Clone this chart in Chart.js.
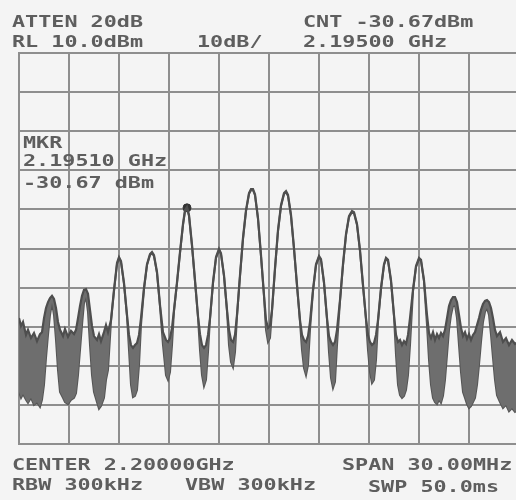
<!DOCTYPE html>
<html>
<head>
<meta charset="utf-8">
<script src="https://cdn.jsdelivr.net/npm/chart.js@4/dist/chart.umd.min.js"></script>
<style>
  html, body { margin:0; padding:0; background:#f4f4f4; overflow:hidden; width:516px; height:500px; }
  #wrap { position:absolute; left:0; top:0; width:540px; height:500px; }
</style>
</head>
<body>
<div id="wrap"><canvas id="c" width="540" height="500"></canvas></div>
<script>
// ---- data ----
// frequency (MHz), span 2185..2215 MHz
const freqMHz = [
  2185.00, 2185.12, 2185.24, 2185.42, 2185.54, 2185.72, 2185.90, 2186.08, 2186.26, 2186.38,
  2186.50, 2186.62, 2186.74, 2186.86, 2186.98, 2187.10, 2187.22, 2187.34, 2187.46, 2187.64,
  2187.76, 2187.94, 2188.12, 2188.30, 2188.42, 2188.54, 2188.66, 2188.78, 2188.90, 2189.02,
  2189.14, 2189.26, 2189.38, 2189.50, 2189.68, 2189.80, 2189.92, 2190.10, 2190.22, 2190.34,
  2190.52, 2190.70, 2190.88, 2191.00, 2191.12, 2191.30, 2191.48, 2191.60, 2191.72, 2191.84,
  2191.96, 2192.08, 2192.20, 2192.32, 2192.50, 2192.68, 2192.86, 2192.98, 2193.10, 2193.28,
  2193.46, 2193.64, 2193.82, 2193.94, 2194.06, 2194.18, 2194.30, 2194.48, 2194.66, 2194.84,
  2194.96, 2195.08, 2195.20, 2195.38, 2195.56, 2195.74, 2195.86, 2195.98, 2196.10, 2196.22,
  2196.34, 2196.46, 2196.64, 2196.82, 2197.00, 2197.12, 2197.30, 2197.48, 2197.60, 2197.72,
  2197.84, 2197.96, 2198.08, 2198.26, 2198.44, 2198.62, 2198.80, 2198.92, 2199.04, 2199.16,
  2199.34, 2199.52, 2199.70, 2199.82, 2199.94, 2200.06, 2200.18, 2200.36, 2200.54, 2200.72,
  2200.90, 2201.02, 2201.14, 2201.32, 2201.50, 2201.68, 2201.86, 2201.98, 2202.10, 2202.22,
  2202.34, 2202.46, 2202.64, 2202.82, 2203.00, 2203.12, 2203.30, 2203.48, 2203.60, 2203.72,
  2203.84, 2203.96, 2204.08, 2204.26, 2204.44, 2204.62, 2204.80, 2204.98, 2205.10, 2205.28,
  2205.46, 2205.64, 2205.82, 2205.94, 2206.06, 2206.18, 2206.30, 2206.42, 2206.54, 2206.72,
  2206.90, 2207.02, 2207.14, 2207.32, 2207.50, 2207.62, 2207.74, 2207.86, 2207.98, 2208.10,
  2208.22, 2208.34, 2208.46, 2208.64, 2208.82, 2209.00, 2209.12, 2209.30, 2209.48, 2209.60,
  2209.72, 2209.84, 2209.96, 2210.08, 2210.20, 2210.32, 2210.44, 2210.56, 2210.68, 2210.80,
  2210.92, 2211.04, 2211.16, 2211.28, 2211.40, 2211.52, 2211.64, 2211.76, 2211.88, 2212.00,
  2212.12, 2212.24, 2212.36, 2212.48, 2212.60, 2212.72, 2212.84, 2212.96, 2213.08, 2213.20,
  2213.32, 2213.44, 2213.56, 2213.68, 2213.86, 2214.04, 2214.22, 2214.40, 2214.58, 2214.76, 2215.00
];
// upper edge of the trace (dBm)
const levelMax = [
  -57.8, -59.8, -58.8, -62.1, -60.8, -62.9, -61.6, -63.7, -61.9, -61.4,
  -57.8, -55.2, -53.7, -52.7, -52.1, -52.9, -55.2, -58.8, -60.8, -62.4,
  -60.6, -62.6, -61.1, -61.9, -60.8, -57.8, -54.7, -52.1, -50.6, -50.4,
  -51.6, -55.7, -59.8, -62.4, -63.4, -61.9, -63.7, -61.4, -59.6, -61.4,
  -58.3, -50.6, -43.7, -42.2, -43.2, -48.8, -57.0, -62.1, -64.7, -65.4,
  -64.7, -64.2, -62.1, -57.8, -50.1, -44.0, -41.4, -40.9, -41.7, -46.0,
  -54.5, -61.4, -63.4, -63.9, -62.9, -60.3, -55.7, -48.6, -40.9, -33.7,
  -30.2, -29.4, -31.4, -39.1, -48.1, -57.3, -61.9, -64.7, -65.4, -64.7,
  -62.1, -57.8, -48.6, -42.2, -40.1, -41.2, -46.8, -55.7, -60.8, -63.4,
  -63.9, -62.1, -57.0, -46.8, -37.3, -30.2, -25.8, -24.8, -24.8, -26.1,
  -32.2, -41.7, -51.9, -58.3, -60.3, -59.8, -55.7, -45.0, -35.3, -28.9,
  -25.8, -25.3, -26.3, -31.4, -39.9, -49.3, -58.3, -62.1, -63.4, -63.9,
  -62.4, -58.8, -50.6, -44.0, -41.9, -42.7, -48.6, -57.8, -62.4, -63.9,
  -64.7, -63.9, -60.8, -53.2, -44.0, -36.3, -31.7, -30.4, -30.7, -33.7,
  -40.4, -49.3, -57.8, -62.1, -63.9, -64.7, -64.2, -62.1, -58.3, -50.1,
  -44.0, -42.4, -42.9, -48.1, -57.0, -62.1, -63.9, -63.4, -64.7, -63.7,
  -64.4, -62.1, -57.8, -50.6, -44.5, -42.4, -42.9, -48.1, -57.0, -61.6,
  -62.9, -61.4, -63.4, -61.9, -62.9, -61.6, -62.4, -60.8, -57.8, -54.7,
  -53.2, -52.4, -52.4, -53.7, -57.0, -60.3, -62.4, -61.4, -63.1, -61.9,
  -63.4, -62.1, -61.4, -59.6, -57.8, -55.7, -54.2, -53.4, -53.2, -53.7,
  -55.2, -57.8, -60.8, -62.4, -61.4, -63.9, -62.9, -64.7, -63.4, -64.4, -63.7
];
// lower edge of the trace (dBm)
const levelMin = [
  -76.7, -78.2, -77.2, -78.7, -79.5, -78.2, -80.0, -79.3, -80.5, -78.7,
  -74.9, -68.0, -62.1, -57.0, -53.9, -57.0, -63.4, -71.1, -76.7, -78.2,
  -79.3, -79.8, -78.7, -78.2, -77.0, -72.4, -66.0, -59.6, -53.9, -52.4,
  -56.2, -64.7, -72.4, -76.7, -79.3, -81.0, -80.3, -78.2, -73.6, -71.1,
  -58.6, -50.9, -44.0, -42.5, -43.5, -49.1, -57.4, -66.0, -74.9, -78.0,
  -77.7, -76.2, -69.8, -59.6, -50.4, -44.3, -41.7, -41.2, -42.0, -46.3,
  -54.8, -64.7, -72.4, -73.6, -71.6, -64.7, -56.0, -48.9, -41.2, -34.0,
  -30.5, -29.7, -31.7, -39.4, -48.4, -57.6, -66.0, -72.4, -75.2, -73.6,
  -66.5, -58.1, -48.9, -42.5, -40.4, -41.5, -47.1, -56.0, -64.7, -69.0,
  -70.3, -66.5, -57.3, -47.1, -37.6, -30.5, -26.1, -25.1, -25.1, -26.4,
  -32.5, -42.0, -52.2, -60.8, -63.9, -62.9, -56.0, -45.3, -35.6, -29.2,
  -26.1, -25.6, -26.6, -31.7, -40.2, -49.6, -58.8, -66.0, -70.6, -72.4,
  -69.8, -60.8, -50.9, -44.3, -42.2, -43.0, -48.9, -58.1, -66.5, -73.1,
  -75.7, -74.1, -64.7, -53.5, -44.3, -36.6, -32.0, -30.7, -31.0, -34.0,
  -40.7, -49.6, -58.3, -66.0, -71.6, -74.4, -73.6, -68.5, -58.8, -50.4,
  -44.3, -42.7, -43.2, -48.4, -57.4, -67.2, -74.9, -77.5, -78.2, -77.7,
  -76.2, -72.4, -64.7, -50.9, -44.8, -42.7, -43.2, -48.4, -59.6, -68.5,
  -74.9, -78.2, -79.3, -79.8, -78.7, -79.5, -77.7, -73.6, -67.2, -60.8,
  -57.0, -54.7, -54.5, -57.8, -64.7, -71.6, -76.7, -78.2, -79.8, -80.8,
  -80.3, -79.3, -78.2, -74.9, -69.8, -63.9, -58.8, -56.2, -55.2, -57.0,
  -62.1, -68.0, -73.6, -77.5, -79.3, -80.8, -80.0, -81.6, -80.8, -81.8, -81.0
];
// marker
const markerFreq = [2195.08];
const markerLevel = [-29.6];
// screen annotations
const annoText = ["ATTEN 20dB", "CNT -30.67dBm", "RL 10.0dBm", "10dB/", "2.19500 GHz",
                  "MKR", "2.19510 GHz", "-30.67 dBm",
                  "CENTER 2.20000GHz", "SPAN 30.00MHz", "RBW 300kHz", "VBW 300kHz", "SWP 50.0ms"];
const annoX = [12, 303, 12, 197, 303, 23, 23, 23, 12, 342, 12, 185, 368];
const annoY = [27, 27, 47, 47, 47, 148, 166, 188, 470, 470, 490, 490, 492];
// axes: reference level 10 dBm, 10 dB/div, 10 divisions; span 30 MHz
const yMin = -90, yMax = 10, yStep = 10;
const xMin = 2185, xMax = 2215, xStep = 3;

const annoPlugin = {
  id: 'anno',
  afterDraw(chart) {
    const ctx = chart.ctx;
    ctx.save();
    ctx.fillStyle = '#5e5e5e';
    ctx.font = 'bold 16px "DejaVu Sans Mono"';
    ctx.textBaseline = 'alphabetic';
    for (let i = 0; i < annoText.length; i++) {
      ctx.save();
      ctx.translate(annoX[i], annoY[i]);
      ctx.scale(1.36, 1);
      ctx.fillText(annoText[i], 0, 0);
      ctx.restore();
    }
    ctx.restore();
  }
};
const bgPlugin = {
  id: 'bg',
  beforeDraw(chart) {
    const ctx = chart.ctx;
    ctx.save();
    ctx.fillStyle = '#f4f4f4';
    ctx.fillRect(0, 0, chart.width, chart.height);
    ctx.restore();
  }
};

const gridColor = '#8e8e8e';
new Chart(document.getElementById('c'), {
  type: 'line',
  data: {
    datasets: [
      {
        label: 'trace max',
        data: freqMHz.map((f, i) => ({ x: f, y: levelMax[i] })),
        borderColor: '#4e4e4e',
        borderWidth: 2.2,
        backgroundColor: '#6e6e6e',
        fill: '+1',
        pointRadius: 0,
        tension: 0
      },
      {
        label: 'trace min',
        data: freqMHz.map((f, i) => ({ x: f, y: levelMin[i] })),
        borderColor: '#555555',
        borderWidth: 2,
        fill: false,
        pointRadius: 0,
        tension: 0
      },
      {
        label: 'marker',
        data: markerFreq.map((f, i) => ({ x: f, y: markerLevel[i] })),
        showLine: false,
        pointRadius: 4,
        pointBackgroundColor: '#333333',
        pointBorderColor: '#333333'
      }
    ]
  },
  options: {
    responsive: false,
    devicePixelRatio: 1,
    animation: false,
    layout: { padding: { left: 19, top: 53, right: 21, bottom: 56 } },
    plugins: { legend: { display: false }, tooltip: { enabled: false } },
    scales: {
      x: {
        type: 'linear', min: xMin, max: xMax,
        ticks: { display: false, stepSize: xStep },
        grid: { color: gridColor, lineWidth: 2, drawTicks: false },
        border: { display: true, color: gridColor, width: 2 }
      },
      y: {
        type: 'linear', min: yMin, max: yMax,
        ticks: { display: false, stepSize: yStep },
        grid: { color: gridColor, lineWidth: 2, drawTicks: false },
        border: { display: true, color: gridColor, width: 2 }
      }
    }
  },
  plugins: [bgPlugin, annoPlugin]
});
</script>
</body>
</html>
